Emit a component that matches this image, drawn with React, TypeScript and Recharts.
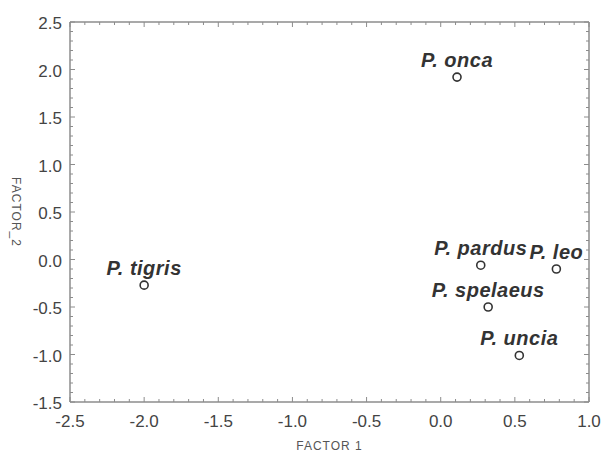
import React from 'react';
import { ScatterChart, Scatter, XAxis, YAxis, ReferenceLine, LabelList } from 'recharts';

const species = ['P. onca', 'P. pardus', 'P. leo', 'P. spelaeus', 'P. uncia', 'P. tigris'];
const factor1 = [0.11, 0.27, 0.78, 0.32, 0.53, -2.0];
const factor2 = [1.92, -0.06, -0.1, -0.5, -1.01, -0.27];

const xMajor = [-2.5, -2.0, -1.5, -1.0, -0.5, 0.0, 0.5, 1.0];
const yMajor = [2.5, 2.0, 1.5, 1.0, 0.5, 0.0, -0.5, -1.0, -1.5];

const W = 603;
const H = 453;
const M = { top: 22, right: 14, bottom: 21, left: 10 };
const Y_AXIS_W = 60;
const X_AXIS_H = 30;
const PLOT_LEFT = M.left + Y_AXIS_W;
const PLOT_TOP = M.top;
const PLOT_RIGHT = W - M.right;
const PLOT_BOTTOM = H - M.bottom - X_AXIS_H;

const FONT = '"Liberation Sans", Arial, sans-serif';
const FRAME = '#8c8c8c';
const TEXT = '#444';

// minor ticks every 0.1 between the majors
const minorTicks = (lo: number, hi: number) => {
  const out: number[] = [];
  for (let i = Math.round(lo * 10); i <= Math.round(hi * 10); i++) out.push(i / 10);
  return out;
};
const xTicks = minorTicks(-2.5, 1.0);
const yTicks = minorTicks(-1.5, 2.5);

const isMajor = (v: number) => Math.abs(v * 2 - Math.round(v * 2)) < 1e-6;

const data = species.map((name, i) => ({ name, x: factor1[i], y: factor2[i] }));

const XTick = (props: any) => {
  const { x, y, payload } = props;
  const v = payload.value;
  const major = isMajor(v);
  const len = major ? 5 : 3;
  return (
    <g>
      <line x1={x} y1={y} x2={x} y2={y - len} stroke={FRAME} strokeWidth={1} />
      <line x1={x} y1={PLOT_TOP} x2={x} y2={PLOT_TOP + len} stroke={FRAME} strokeWidth={1} />
      {major && xMajor.some((m) => Math.abs(m - v) < 1e-6) && (
        <text x={x} y={y + 25} textAnchor="middle" fill={TEXT} fontSize={17} fontFamily={FONT}>
          {v.toFixed(1)}
        </text>
      )}
    </g>
  );
};

const YTick = (props: any) => {
  const { x, y, payload } = props;
  const v = payload.value;
  const major = isMajor(v);
  const len = major ? 5 : 3;
  return (
    <g>
      <line x1={x} y1={y} x2={x + len} y2={y} stroke={FRAME} strokeWidth={1} />
      <line x1={PLOT_RIGHT} y1={y} x2={PLOT_RIGHT - len} y2={y} stroke={FRAME} strokeWidth={1} />
      {major && yMajor.some((m) => Math.abs(m - v) < 1e-6) && (
        <text x={x - 8} y={y + 7} textAnchor="end" fill={TEXT} fontSize={17} fontFamily={FONT}>
          {v.toFixed(1)}
        </text>
      )}
    </g>
  );
};

const Marker = (props: any) => {
  const { cx, cy } = props;
  return <circle cx={cx} cy={cy} r={4} fill="#fff" stroke="#333" strokeWidth={1.6} />;
};

const NameLabel = (props: any) => {
  const { x, y, width, value } = props;
  const cx = x + (width || 0) / 2;
  const cy = y + (props.height || 0) / 2;
  return (
    <text
      x={cx}
      y={cy - 10}
      textAnchor="middle"
      fill="#333"
      fontSize={20}
      fontWeight="bold"
      fontStyle="italic"
      fontFamily={FONT}
      letterSpacing={0.5}
    >
      {value}
    </text>
  );
};

const App: React.FC = () => {
  return (
    <div style={{ position: 'absolute', left: 0, top: 0, width: W, height: H, background: '#fff' }}>
      <ScatterChart width={W} height={H} margin={M}>
        <XAxis
          type="number"
          dataKey="x"
          domain={[-2.5, 1.0]}
          ticks={xTicks}
          interval={0}
          tickSize={0}
          tickMargin={0}
          tickLine={false}
          height={X_AXIS_H}
          stroke={FRAME}
          strokeWidth={1.5}
          tick={<XTick />}
        />
        <YAxis
          type="number"
          dataKey="y"
          domain={[-1.5, 2.5]}
          ticks={yTicks}
          interval={0}
          tickSize={0}
          tickMargin={0}
          tickLine={false}
          width={Y_AXIS_W}
          stroke={FRAME}
          strokeWidth={1.5}
          tick={<YTick />}
        />
        <ReferenceLine y={2.5} stroke={FRAME} strokeWidth={1.5} />
        <ReferenceLine x={1.0} stroke={FRAME} strokeWidth={1.5} />
        <Scatter data={data} shape={<Marker />} isAnimationActive={false}>
          <LabelList dataKey="name" content={<NameLabel />} />
        </Scatter>
        <text x={(PLOT_LEFT + PLOT_RIGHT) / 2} y={450} textAnchor="middle" fill="#555" fontSize={12} fontFamily={FONT} letterSpacing={1}>
          FACTOR 1
        </text>
        <text
          x={12}
          y={(PLOT_TOP + PLOT_BOTTOM) / 2}
          textAnchor="middle"
          fill="#555"
          fontSize={12}
          fontFamily={FONT}
          letterSpacing={1}
          transform={`rotate(90 12 ${(PLOT_TOP + PLOT_BOTTOM) / 2})`}
        >
          FACTOR_2
        </text>
      </ScatterChart>
    </div>
  );
};

export default App;
